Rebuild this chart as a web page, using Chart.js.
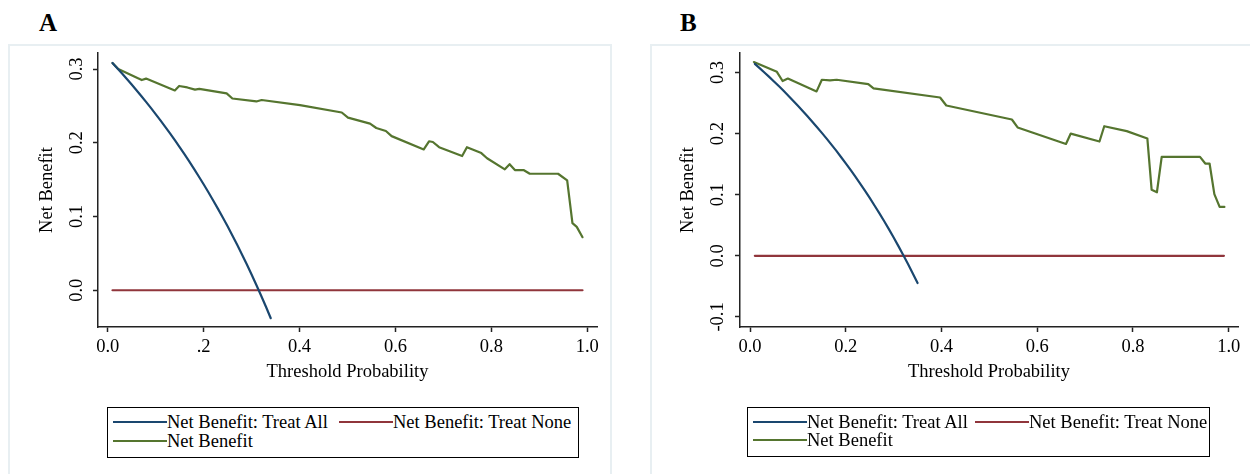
<!DOCTYPE html>
<html><head><meta charset="utf-8">
<script src="https://cdn.jsdelivr.net/npm/chart.js@4.4.1/dist/chart.umd.min.js"></script>
<style>
html,body{margin:0;padding:0;background:#fff;width:1250px;height:474px;overflow:hidden;position:relative;font-family:"Liberation Serif","Times New Roman",serif;}
.panel{position:absolute;top:44px;height:460px;border:2px solid #e8eff2;box-sizing:border-box;}
.tag{position:absolute;top:10px;font:bold 25px/25px "Liberation Serif",serif;color:#000;}
canvas{position:absolute;top:0;}
.legend{position:absolute;top:407px;border:1px solid #000;box-sizing:border-box;font:18.5px "Liberation Serif",serif;color:#000;background:#fff;}
.item{position:absolute;height:20px;display:flex;align-items:center;white-space:nowrap;}
.sw{width:54px;height:2px;}
</style>
</head><body>
<div class="panel" style="left:8px;width:604px;"></div>
<div class="panel" style="left:650px;width:620px;"></div>
<div class="tag" style="left:39px;">A</div>
<div class="tag" style="left:680px;">B</div>
<canvas id="cA" width="625" height="474" style="left:0px;width:625px;height:474px;"></canvas>
<canvas id="cB" width="610" height="474" style="left:640px;width:610px;height:474px;"></canvas>
<div class="legend" id="legA" style="left:107px;width:472px;height:51px;"></div>
<div class="legend" id="legB" style="left:747px;width:463px;height:50px;"></div>
<script>
// ---------- data ----------
const seriesNames = ["Net Benefit: Treat All", "Net Benefit: Treat None", "Net Benefit"];
const xTickValues = [0, 0.2, 0.4, 0.6, 0.8, 1.0];
const xTickLabelsA = ["0.0", ".2", "0.4", "0.6", "0.8", "1.0"];
const xTickLabelsB = ["0.0", "0.2", "0.4", "0.6", "0.8", "1.0"];
const yTickValuesA = [0, 0.1, 0.2, 0.3];
const yTickLabelsA = ["0.0", "0.1", "0.2", "0.3"];
const yTickValuesB = [-0.1, 0, 0.1, 0.2, 0.3];
const yTickLabelsB = ["-0.1", "0.0", "0.1", "0.2", "0.3"];

// Panel A
const allXA = [0.01,0.02,0.03,0.04,0.05,0.06,0.07,0.08,0.09,0.10,0.11,0.12,0.13,0.14,0.15,0.16,0.17,0.18,0.19,0.20,0.21,0.22,0.23,0.24,0.25,0.26,0.27,0.28,0.29,0.30,0.31,0.32,0.33,0.34];
const allYA = [0.3081,0.3010,0.2938,0.2865,0.2789,0.2713,0.2634,0.2554,0.2473,0.2389,0.2303,0.2216,0.2126,0.2035,0.1941,0.1845,0.1747,0.1646,0.1543,0.1438,0.1329,0.1218,0.1104,0.0987,0.0867,0.0743,0.0616,0.0486,0.0352,0.0214,0.0072,-0.0074,-0.0224,-0.0379];
const noneXA = [0.01, 0.99];
const noneYA = [0, 0];
const modelXA = [0.010,0.022,0.071,0.080,0.140,0.149,0.166,0.182,0.191,0.248,0.260,0.310,0.321,0.401,0.488,0.501,0.547,0.560,0.580,0.592,0.659,0.670,0.678,0.691,0.739,0.749,0.779,0.791,0.828,0.838,0.849,0.867,0.880,0.939,0.958,0.969,0.978,0.990];
const modelYA = [0.308,0.300,0.285,0.287,0.271,0.277,0.275,0.272,0.273,0.267,0.260,0.256,0.258,0.251,0.241,0.234,0.226,0.220,0.216,0.209,0.191,0.202,0.201,0.194,0.182,0.194,0.186,0.179,0.164,0.171,0.163,0.163,0.158,0.158,0.149,0.091,0.086,0.072];

// Panel B
const allXB = [0.01,0.02,0.03,0.04,0.05,0.06,0.07,0.08,0.09,0.10,0.11,0.12,0.13,0.14,0.15,0.16,0.17,0.18,0.19,0.20,0.21,0.22,0.23,0.24,0.25,0.26,0.27,0.28,0.29,0.30,0.31,0.32,0.33,0.34,0.35];
const allYB = [0.3141,0.3071,0.3000,0.2927,0.2853,0.2777,0.2699,0.2620,0.2538,0.2456,0.2371,0.2284,0.2195,0.2105,0.2012,0.1917,0.1819,0.1720,0.1617,0.1513,0.1405,0.1295,0.1182,0.1066,0.0947,0.0824,0.0699,0.0569,0.0437,0.0300,0.0159,0.0015,-0.0134,-0.0288,-0.0446];
const noneXB = [0.01, 0.99];
const noneYB = [0, 0];
const modelXB = [0.008,0.056,0.068,0.079,0.139,0.150,0.167,0.181,0.247,0.258,0.397,0.410,0.547,0.559,0.660,0.670,0.730,0.740,0.787,0.830,0.839,0.850,0.860,0.940,0.951,0.960,0.970,0.981,0.991];
const modelYB = [0.317,0.301,0.286,0.290,0.269,0.288,0.287,0.288,0.281,0.274,0.259,0.246,0.223,0.210,0.183,0.200,0.187,0.212,0.204,0.192,0.108,0.104,0.162,0.162,0.151,0.151,0.101,0.080,0.080];

// ---------- styling ----------
const colors = ["#1a476f", "#90353b", "#55752f"];
const FONT = "'Liberation Serif', 'Times New Roman', serif";
const FSIZE = 18.5;

function pts(xs, ys) { return xs.map((x, i) => ({x: x, y: ys[i]})); }

function makeChart(id, cfg) {
  const datasets = [
    {label: seriesNames[0], data: pts(cfg.allX, cfg.allY)},
    {label: seriesNames[1], data: pts(cfg.noneX, cfg.noneY)},
    {label: seriesNames[2], data: pts(cfg.modelX, cfg.modelY)}
  ].map((d, i) => Object.assign(d, {
    borderColor: colors[i], backgroundColor: colors[i], borderWidth: 2.2,
    pointRadius: 0, tension: 0, fill: false, borderJoinStyle: 'round', borderCapStyle: 'round'
  }));
  const canvas = document.getElementById(id);
  return new Chart(canvas, {
    type: 'line',
    data: {datasets},
    options: {
      responsive: false, animation: false, devicePixelRatio: 1,
      layout: {padding: {left: 0, right: cfg.padRight, top: cfg.padTop, bottom: 0}},
      plugins: {legend: {display: false}, tooltip: {enabled: false}},
      scales: {
        x: {
          type: 'linear', min: cfg.xMin, max: cfg.xMax,
          afterBuildTicks: s => { s.ticks = xTickValues.map(v => ({value: v})); },
          afterFit: s => { s.height = cfg.xAxisHeight; s.paddingLeft = 0; s.paddingRight = 0; },
          ticks: {
            callback: (v, i) => cfg.xLabels[i], color: '#000', padding: 4, maxRotation: 0, minRotation: 0,
            font: {family: FONT, size: FSIZE}
          },
          grid: {drawOnChartArea: false, drawTicks: true, tickLength: 5, tickWidth: 1.5, tickColor: '#222'},
          border: {display: true, color: '#222', width: 1.5},
          title: {display: true, text: 'Threshold Probability', color: '#000',
                  font: {family: FONT, size: FSIZE}, padding: {top: 0, bottom: 91}}
        },
        y: {
          type: 'linear', min: cfg.yMin, max: cfg.yMax,
          afterBuildTicks: s => { s.ticks = cfg.yTicks.map(v => ({value: v})); },
          afterFit: s => { s.width = cfg.yAxisWidth; s.paddingTop = 0; s.paddingBottom = 0; },
          ticks: {
            callback: (v, i) => cfg.yLabels[i], color: '#000', padding: cfg.yTickPad,
            minRotation: 90, maxRotation: 90, crossAlign: 'center',
            font: {family: FONT, size: FSIZE}
          },
          grid: {drawOnChartArea: false, drawTicks: true, tickLength: 5, tickWidth: 1.5, tickColor: '#222'},
          border: {display: true, color: '#222', width: 1.5},
          title: {display: true, text: 'Net Benefit', color: '#000',
                  font: {family: FONT, size: FSIZE}, padding: {top: cfg.yTitlePad, bottom: 0}}
        }
      }
    }
  });
}

function buildLegend(chart, elId, layout) {
  const el = document.getElementById(elId);
  chart.data.datasets.forEach((ds, i) => {
    const it = document.createElement('div');
    it.className = 'item';
    it.style.left = layout[i][0] + 'px';
    it.style.top = layout[i][1] + 'px';
    const sw = document.createElement('div');
    sw.className = 'sw';
    sw.style.background = ds.borderColor;
    const tx = document.createElement('span');
    tx.textContent = ds.label;
    it.appendChild(sw); it.appendChild(tx);
    el.appendChild(it);
  });
}

const chartA = makeChart('cA', {
  allX: allXA, allY: allYA, noneX: noneXA, noneY: noneYA, modelX: modelXA, modelY: modelYA,
  xMin: -0.0202, xMax: 1.0202, yMin: -0.0498, yMax: 0.3217,
  xLabels: xTickLabelsA, yTicks: yTickValuesA, yLabels: yTickLabelsA,
  padRight: 28, padTop: 53, xAxisHeight: 147, yAxisWidth: 98, yTickPad: 4, yTitlePad: 36
});
const chartB = makeChart('cB', {
  allX: allXB, allY: allYB, noneX: noneXB, noneY: noneYB, modelX: modelXB, modelY: modelYB,
  xMin: -0.021, xMax: 1.0194, yMin: -0.1164, yMax: 0.3318,
  xLabels: xTickLabelsB, yTicks: yTickValuesB, yLabels: yTickLabelsB,
  padRight: 12, padTop: 53, xAxisHeight: 147, yAxisWidth: 100, yTickPad: 2, yTitlePad: 37
});
buildLegend(chartA, 'legA', [[5, 4], [231, 4], [5, 23]]);
buildLegend(chartB, 'legB', [[5, 4], [227, 4], [5, 22]]);
</script>
</body></html>
